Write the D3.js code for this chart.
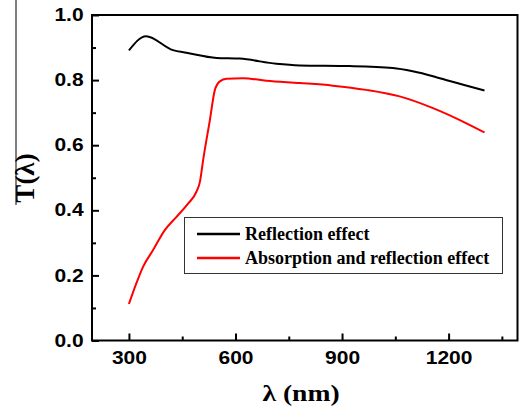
<!DOCTYPE html>
<html>
<head>
<meta charset="utf-8">
<script src="https://cdn.jsdelivr.net/npm/d3@7"></script>
<style>
  body { margin: 0; background: #fff; }
  .tick text { font-family: Arial, "Liberation Sans", sans-serif; font-weight: bold; }
</style>
</head>
<body>
<script>
// data
var reflWave = [300, 348, 424, 462, 547, 612, 715, 781, 921, 1043, 1099, 1156, 1203, 1301];
var reflT    = [0.891, 0.935, 0.892, 0.884, 0.868, 0.866, 0.850, 0.845, 0.843, 0.837, 0.827, 0.812, 0.797, 0.768];

var absWave = [300, 321, 340, 368, 401, 434, 467, 490, 500, 509, 528, 542, 556, 575, 621, 687, 781, 874, 968, 1062, 1156, 1249, 1301];
var absT    = [0.112, 0.176, 0.227, 0.278, 0.339, 0.380, 0.421, 0.457, 0.488, 0.555, 0.678, 0.770, 0.796, 0.804, 0.806, 0.798, 0.791, 0.783, 0.770, 0.750, 0.714, 0.668, 0.639];

var seriesNames = ["Reflection effect", "Absorption and reflection effect"];
var seriesColors = ["#000", "#ff0000"];

var xMajor = [300, 600, 900, 1200];
var xMinor = [450, 750, 1050, 1350];
var yMajor = [0, 0.2, 0.4, 0.6, 0.8, 1.0];
var yMinor = [0.1, 0.3, 0.5, 0.7, 0.9];

var width = 519, height = 408;
var margin = { left: 92, right: 517.5, top: 15, bottom: 340.5 };

var svg = d3.select("body").append("svg")
    .attr("width", width)
    .attr("height", height);

var x = d3.scaleLinear().domain([196, 1394]).range([margin.left, margin.right]);
var y = d3.scaleLinear().domain([0, 1]).range([margin.bottom, margin.top]);

// minor ticks
svg.append("g")
    .attr("transform", "translate(0," + margin.bottom + ")")
    .call(d3.axisBottom(x).tickValues(xMinor).tickSize(-4).tickFormat(""))
    .call(g => g.select(".domain").remove())
    .selectAll("line").attr("stroke-width", 2);
svg.append("g")
    .attr("transform", "translate(" + margin.left + ",0)")
    .call(d3.axisLeft(y).tickValues(yMinor).tickSize(-4).tickFormat(""))
    .call(g => g.select(".domain").remove())
    .selectAll("line").attr("stroke-width", 2);

// major ticks + labels (glyphs are a bit wide in the original, hence the x-stretch)
var xAxis = svg.append("g")
    .attr("transform", "translate(0," + margin.bottom + ")")
    .call(d3.axisBottom(x).tickValues(xMajor).tickSize(-7).tickPadding(11).tickFormat(d3.format("d")));
xAxis.select(".domain").remove();
xAxis.selectAll("line").attr("stroke-width", 2);
xAxis.selectAll("text").attr("font-size", 17.5).attr("fill", "#000")
    .attr("transform", "scale(1.2,1)");

var yAxis = svg.append("g")
    .attr("transform", "translate(" + margin.left + ",0)")
    .call(d3.axisLeft(y).tickValues(yMajor).tickSize(-7).tickPadding(7).tickFormat(d3.format(".1f")));
yAxis.select(".domain").remove();
yAxis.selectAll("line").attr("stroke-width", 2);
yAxis.selectAll("text").attr("font-size", 17.5).attr("fill", "#000")
    .attr("transform", "scale(1.2,1)");

// frame
svg.append("rect")
    .attr("x", margin.left).attr("y", margin.top)
    .attr("width", margin.right - margin.left).attr("height", margin.bottom - margin.top)
    .attr("fill", "none").attr("stroke", "#000").attr("stroke-width", 2);

// curves
var line = d3.line()
    .x(d => x(d[0]))
    .y(d => y(d[1]))
    .curve(d3.curveMonotoneX);

var series = [
    d3.zip(reflWave, reflT),
    d3.zip(absWave, absT)
];

svg.selectAll(".curve")
    .data(series)
    .enter()
    .append("path")
    .attr("class", "curve")
    .attr("d", line)
    .attr("fill", "none")
    .attr("stroke", (d, i) => seriesColors[i])
    .attr("stroke-width", 2);

// legend
var legend = svg.append("g");
legend.append("rect")
    .attr("x", 184.5).attr("y", 217.5)
    .attr("width", 318).attr("height", 56)
    .attr("fill", "#fff").attr("stroke", "#333").attr("stroke-width", 1);

seriesNames.forEach(function (name, i) {
    var ly = 234 + i * 24;
    legend.append("line")
        .attr("x1", 197).attr("x2", 240)
        .attr("y1", ly).attr("y2", ly)
        .attr("stroke", seriesColors[i]).attr("stroke-width", 2.5);
    legend.append("text")
        .attr("x", 245).attr("y", ly + 6)
        .attr("font-family", "'Liberation Serif', 'Times New Roman', serif")
        .attr("font-weight", "bold")
        .attr("font-size", 18)
        .text(name);
});

// axis titles
svg.append("text")
    .attr("transform", "translate(301,401) scale(1.2,1)")
    .attr("text-anchor", "middle")
    .attr("font-family", "'Liberation Serif', 'Times New Roman', serif")
    .attr("font-weight", "bold")
    .attr("font-size", 23)
    .text("λ (nm)");

svg.append("text")
    .attr("transform", "translate(34,178) rotate(-90)")
    .attr("text-anchor", "middle")
    .attr("font-family", "'Liberation Serif', 'Times New Roman', serif")
    .attr("font-weight", "bold")
    .attr("font-size", 27)
    .text("T(λ)");

// stray vertical rule left of the y title
svg.append("line")
    .attr("x1", 16).attr("x2", 16)
    .attr("y1", 0).attr("y2", 205)
    .attr("stroke", "#000").attr("stroke-width", 1);
</script>
</body>
</html>
